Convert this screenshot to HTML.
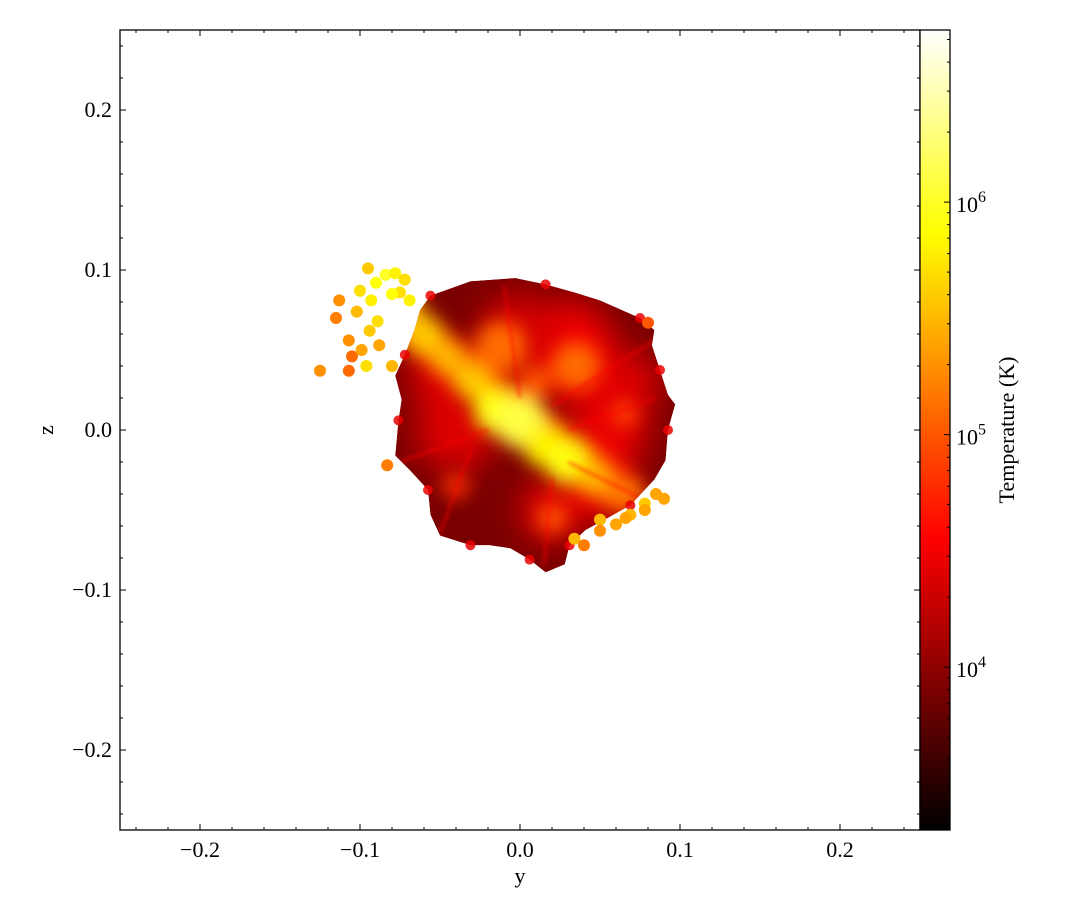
<!DOCTYPE html>
<html><head><meta charset="utf-8"><style>
html,body{margin:0;padding:0;background:#fff;}
svg{display:block;font-family:"Liberation Serif",serif;}
</style></head><body>
<svg id="chart" width="1085" height="920" viewBox="0 0 1085 920">
<defs>
<filter id="blur8" x="-50%" y="-50%" width="200%" height="200%"><feGaussianBlur stdDeviation="9"/></filter>
<filter id="blur14" x="-50%" y="-50%" width="200%" height="200%"><feGaussianBlur stdDeviation="16"/></filter>
<filter id="blur3" x="-50%" y="-50%" width="200%" height="200%"><feGaussianBlur stdDeviation="2"/></filter>
<clipPath id="bodyclip"><polygon id="clipPoly"/></clipPath>
<linearGradient id="cmap" x1="0" y1="1" x2="0" y2="0">
<stop offset="0" stop-color="#000"/>
<stop offset="0.365" stop-color="#ff0000"/>
<stop offset="0.746" stop-color="#ffff00"/>
<stop offset="1" stop-color="#ffffff"/>
</linearGradient>
</defs>
<g id="plot"></g>
<g id="axes"></g>
</svg>
<script>
const xTicks=[-0.2,-0.1,0.0,0.1,0.2];
const yTicks=[-0.2,-0.1,0.0,0.1,0.2];
const cbarDecades=[4,5,6];
const cbarRange=[3.30,6.74];
const outlineY=[-0.056,-0.031,-0.003,0.016,0.034,0.05,0.075,0.084,0.0825,0.0875,0.0925,0.097,0.0925,0.091,0.084,0.069,0.053,0.041,0.031,0.028,0.016,0.006,-0.006,-0.019,-0.031,-0.05,-0.056,-0.0575,-0.069,-0.078,-0.076,-0.074,-0.078,-0.072,-0.066,-0.0625];
const outlineZ=[0.084,0.093,0.095,0.091,0.086,0.081,0.07,0.0625,0.053,0.0375,0.022,0.016,0,-0.019,-0.031,-0.047,-0.056,-0.0625,-0.072,-0.084,-0.089,-0.081,-0.074,-0.072,-0.072,-0.066,-0.053,-0.0375,-0.025,-0.016,0.006,0.019,0.034,0.047,0.0625,0.075];
// warm (red) interior regions
const warmY=[0.03,0.055,-0.04,0.0,0.05,-0.05,0.07,0.02];
const warmZ=[0.05,0.0,0.0,0.06,-0.035,0.035,0.03,-0.05];
const warmR=[0.03,0.025,0.025,0.025,0.02,0.02,0.018,0.02];
const warmT=[4.5,4.45,4.4,4.35,4.5,4.4,4.4,4.4];
// hot regions: y, z, radius (data), log T
const hotY=[-0.06,-0.045,-0.03,-0.015,0.0,0.015,0.03,0.045,0.06,-0.012,0.035,-0.07,0.02,0.065,0.01,-0.04,0.07];
const hotZ=[0.06,0.045,0.03,0.012,0.005,-0.01,-0.02,-0.03,-0.04,0.052,0.04,0.075,-0.055,0.01,0.03,-0.035,-0.04];
const hotR=[0.012,0.01,0.011,0.014,0.016,0.013,0.014,0.011,0.008,0.016,0.015,0.01,0.009,0.008,0.01,0.008,0.008];
const hotT=[5.6,5.5,5.6,5.9,6.1,5.8,5.9,5.5,5.2,5.1,5.1,5.5,5.0,4.9,5.0,4.8,5.2];
// ejected gas particles
const partY=[-0.113,-0.115,-0.102,-0.093,-0.1,-0.09,-0.084,-0.078,-0.075,-0.08,-0.107,-0.105,-0.099,-0.094,-0.088,-0.096,-0.125,-0.107,-0.08,-0.089,-0.069,-0.072,-0.095,0.05,0.06,0.069,0.078,0.085,0.09,0.05,0.034,0.04,0.066,0.08,-0.083,0.078];
const partZ=[0.081,0.07,0.074,0.081,0.087,0.092,0.097,0.098,0.086,0.085,0.056,0.046,0.05,0.062,0.053,0.04,0.037,0.037,0.04,0.068,0.081,0.094,0.101,-0.056,-0.059,-0.053,-0.046,-0.04,-0.043,-0.063,-0.068,-0.072,-0.055,0.067,-0.022,-0.05];
const partT=[5.3,5.2,5.5,5.8,5.7,5.9,6.0,5.8,5.7,5.9,5.3,5.1,5.4,5.6,5.4,5.7,5.3,5.1,5.5,5.7,5.8,5.7,5.6,5.5,5.4,5.5,5.6,5.4,5.4,5.3,5.5,5.2,5.4,5.0,5.2,5.4];

const X0=120,X1=920,Y0=30,Y1=830;
const sx=v=>X0+(v+0.25)/0.5*(X1-X0);
const sy=v=>Y1-(v+0.25)/0.5*(Y1-Y0);
const sr=r=>r/0.5*(X1-X0);
const cy=l=>830-(l-cbarRange[0])/(cbarRange[1]-cbarRange[0])*800;
function hot(l){let t=(l-cbarRange[0])/(cbarRange[1]-cbarRange[0]);t=Math.max(0,Math.min(1,t));
 const r=Math.min(1,t/0.365),g=Math.max(0,Math.min(1,(t-0.365)/0.381)),b=Math.max(0,(t-0.746)/0.254);
 return `rgb(${Math.round(r*255)},${Math.round(g*255)},${Math.round(b*255)})`;}
const NS="http://www.w3.org/2000/svg";
function mk(tag,attrs,parent){const e=document.createElementNS(NS,tag);for(const k in attrs)e.setAttribute(k,attrs[k]);parent.appendChild(e);return e;}
const plot=document.getElementById('plot'),axes=document.getElementById('axes');
const pts=outlineY.map((v,i)=>sx(v)+','+sy(outlineZ[i])).join(' ');
document.getElementById('clipPoly').setAttribute('points',pts);
const body=mk('g',{'clip-path':'url(#bodyclip)'},plot);


const base=mk('polygon',{points:pts,fill:hot(3.9)},body);


const wide=mk('g',{filter:'url(#blur14)'},body);
warmY.forEach((v,i)=>{
 const c=mk('circle',{cx:sx(v),cy:sy(warmZ[i]),r:sr(warmR[i]),fill:hot(warmT[i])},wide);
 
 
});
const glow=mk('g',{filter:'url(#blur8)'},body);
const fil=mk('line',{x1:sx(-0.07),y1:sy(0.065),x2:sx(0.065),y2:sy(-0.04),stroke:hot(4.9),'stroke-width':40,'stroke-linecap':'round'},glow);


hotY.forEach((v,i)=>{
 const c=mk('circle',{cx:sx(v),cy:sy(hotZ[i]),r:sr(hotR[i]),fill:hot(hotT[i])},glow);
 
 
});
const lines=mk('g',{stroke:hot(4.55),'stroke-width':2,opacity:0.8,filter:'url(#blur3)'},body);
[[0.02,0.015,0.09,0.06],[0.03,-0.02,0.08,-0.045],[-0.02,0.0,-0.075,-0.02],[0.0,0.02,-0.01,0.09],[0.03,0.0,0.085,0.02],[0.02,-0.03,0.015,-0.085],[-0.03,-0.01,-0.05,-0.065]].forEach(s=>{
 const l=mk('line',{x1:sx(s[0]),y1:sy(s[1]),x2:sx(s[2]),y2:sy(s[3])},lines);
 
 
});
// rim bumps
const rimG=mk('g',{},plot);
outlineY.forEach((v,i)=>{ if(i%3!==0) return;
 const c=mk('circle',{cx:sx(v),cy:sy(outlineZ[i]),r:5,fill:hot(4.45),opacity:0.85},rimG);
 
 
});
partY.forEach((v,i)=>{
 const c=mk('circle',{cx:sx(v),cy:sy(partZ[i]),r:6,fill:hot(partT[i])},plot);
 
 
});
const frame=mk('rect',{x:X0,y:Y0,width:X1-X0,height:Y1-Y0,fill:'none',stroke:'#000','stroke-width':1.3},axes);


let tk='';
for(let k=-12;k<=12;k++){const v=k*0.02;if(v<-0.25||v>0.25)continue;const major=k%5===0;const L=major?6:3;
 tk+=`M${sx(v)},${Y1}v${-L}M${sx(v)},${Y0}v${L}M${X0},${sy(v)}h${L}M${X1},${sy(v)}h${-L}`;}
const tp=mk('path',{d:tk,stroke:'#000','stroke-width':1,fill:'none'},axes);


const fmt=v=>(v<0?'\u2212':'')+Math.abs(v).toFixed(1);
xTicks.forEach(v=>{const t=mk('text',{x:sx(v),y:857,'text-anchor':'middle','font-size':22},axes);t.textContent=fmt(v);
 
 });
yTicks.forEach(v=>{const t=mk('text',{x:X0-8,y:sy(v)+7,'text-anchor':'end','font-size':22},axes);t.textContent=fmt(v);
 
 });
const xl=mk('text',{x:520,y:883,'text-anchor':'middle','font-size':22},axes);xl.textContent='y';


const yl=mk('text',{x:53,y:430,'text-anchor':'middle','font-size':22,transform:'rotate(-90 53 430)'},axes);yl.textContent='z';


const cb=mk('rect',{x:920,y:30,width:30,height:800,fill:'url(#cmap)',stroke:'#000','stroke-width':1.3},axes);


let ct='';
for(let d=3;d<=6;d++)for(let m=1;m<=9;m++){const l=d+Math.log10(m);if(l<cbarRange[0]||l>cbarRange[1])continue;const L=m===1?6:3;ct+=`M950,${cy(l)}h${-L}`;}
const ctp=mk('path',{d:ct,stroke:'#000','stroke-width':1,fill:'none'},axes);


cbarDecades.forEach(d=>{const t=mk('text',{x:956,y:cy(d)+10,'font-size':22},axes);
 t.innerHTML='10<tspan dy="-10" font-size="16">'+d+'</tspan>';
 
 });
const cl=mk('text',{x:1014,y:430,'text-anchor':'middle','font-size':22,transform:'rotate(-90 1014 430)'},axes);cl.textContent='Temperature (K)';


</script>
</body></html>
